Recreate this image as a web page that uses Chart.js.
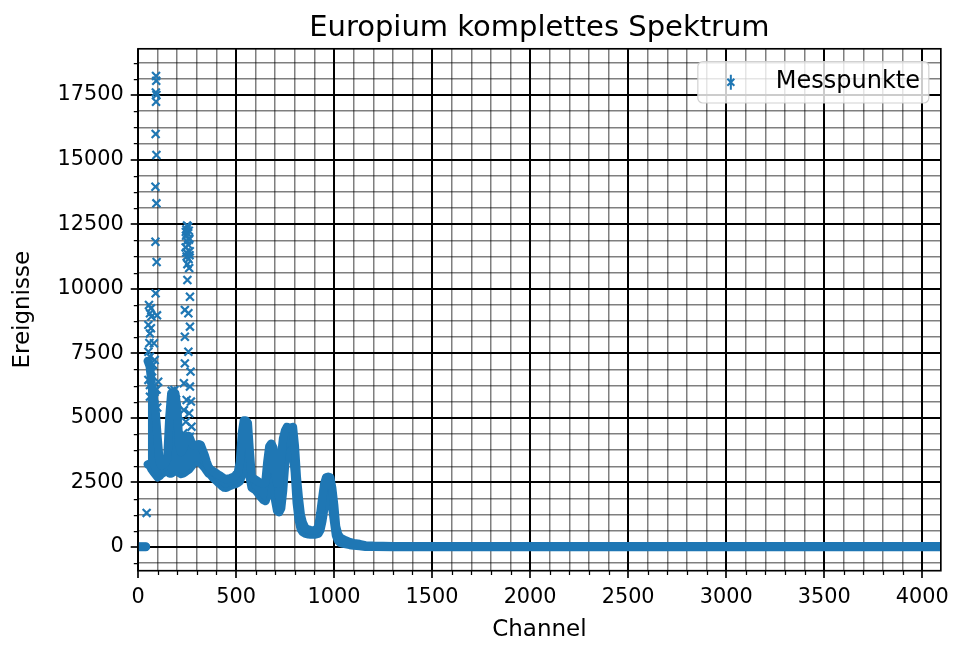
<!DOCTYPE html>
<html>
<head>
<meta charset="utf-8">
<script src="https://cdn.jsdelivr.net/npm/chart.js@4.4.1/dist/chart.umd.min.js"></script>
<style>
  html, body { margin: 0; padding: 0; background: #fff; }
</style>
</head>
<body>
<canvas id="spektrum" width="956" height="646"></canvas>
<script>
// dense part of the spectrum: channel with upper and lower edge of the point cloud
const bandChannels = [0, 10, 20, 30, 40, 44, 50, 60, 70, 80, 90, 100, 110, 120, 130, 140, 150, 160, 170, 180, 190, 200,
  210, 220, 230, 240, 250, 260, 270, 280, 290, 300, 310, 320, 330, 340, 350, 360, 370, 380, 390, 400,
  410, 420, 430, 440, 450, 460, 470, 480, 490, 500, 510, 520, 530, 540, 550, 560, 570, 580, 590, 600,
  610, 620, 630, 640, 650, 660, 670, 680, 690, 700, 710, 720, 730, 740, 750, 760, 770, 780, 790, 800,
  810, 820, 830, 840, 850, 860, 870, 880, 890, 900, 910, 920, 930, 940, 950, 960, 970, 980, 990, 1000,
  1010, 1020, 1030, 1040, 1060, 1080, 1100, 1130, 1160, 1200, 1300, 1500, 2000, 2500, 3000, 3500, 4095];
const bandUpper = [15, 15, 15, 15, 15, null, 7200, 7000, 6300, 5800, 5200, 4200, 3300, 3150, 3200, 3250, 3450, 5000, 5950, 6000, 5950, 5400,
  3950, 3680, 3800, 4100, 4300, 4300, 4100, 3950, 3920, 3950, 3980, 3950, 3750, 3550, 3300, 3100, 3000, 2950, 2900, 2850,
  2800, 2760, 2700, 2650, 2630, 2640, 2660, 2690, 2720, 2800, 2900, 3300, 4400, 4900, 4900, 4800, 3700, 2700, 2650, 2600,
  2550, 2500, 2480, 2450, 2500, 3300, 3900, 4000, 3850, 2900, 2450, 2450, 3500, 4200, 4500, 4650, 4600, 4600, 4650, 3900,
  2700, 1900, 1250, 950, 780, 700, 670, 650, 640, 650, 680, 800, 1300, 1900, 2450, 2700, 2720, 2700, 2300, 1650,
  800, 500, 380, 320, 250, 190, 150, 115, 60, 45, 30, 30, 30, 30, 30, 30, 30];
const bandLower = [0, 0, 0, 0, 0, null, 3200, 3150, 3000, 2900, 2800, 2700, 2750, 2830, 2880, 2940, 3000, 2850, 2850, 2900, 2950, 2950,
  2870, 2830, 2850, 2900, 2950, 3000, 3100, 3200, 3300, 3300, 3280, 3250, 3150, 3070, 2950, 2850, 2800, 2700, 2630, 2560,
  2480, 2420, 2350, 2300, 2290, 2330, 2370, 2400, 2420, 2450, 2490, 2550, 2800, 3700, 4200, 3800, 2700, 2300, 2250, 2200,
  2100, 2000, 1900, 1820, 1780, 2000, 2900, 3400, 2800, 1800, 1400, 1350, 1500, 2200, 3200, 3800, 3900, 3900, 3700, 2900,
  1700, 1050, 700, 580, 530, 510, 490, 480, 480, 480, 500, 520, 650, 1000, 1500, 2050, 2250, 2150, 1600, 1000,
  450, 250, 170, 140, 110, 80, 60, 40, 12, 8, 0, 0, 0, 0, 0, 0, 0];

// single points standing out of the cloud (low channels and the peaks near 95 and 255)
const singleChannels = [44, 92, 93, 91, 94, 92, 90, 94, 89, 94, 89, 95, 90, 97,
  56, 66, 61, 68, 53, 66, 61, 53, 61, 77, 85, 81, 53, 61, 77, 88, 103, 61, 77, 85, 72, 98, 58, 95,
  250, 256, 247, 259, 253, 245, 262, 249, 256, 243, 264, 248, 258, 252, 261, 246, 260, 244, 263,
  252, 265, 239, 257, 265, 239, 257, 239, 268, 234, 265, 248, 270, 234, 261, 244, 273, 231, 265, 248, 273,
  172, 186, 178, 194, 181, 168, 198];
const singleCounts = [1320, 18235, 18050, 17600, 17500, 17240, 15990, 15176, 13950, 13306, 11820, 11034, 9820, 8970,
  9370, 9240, 9050, 8920, 8600, 8470, 8270, 7560, 7370, 7050, 7240, 7890, 6470, 6270, 6140, 6080, 6400, 5820, 5560, 5760, 6800, 5400, 7900, 6100,
  12450, 12400, 12300, 12250, 12150, 12050, 11950, 11850, 11700, 11600, 11450, 11250, 11150, 10950, 10800, 11400, 11900, 12200, 11300,
  10340, 9690, 9180, 9050, 8530, 8140, 7560, 7110, 6790, 6340, 6210, 5690, 5630, 5300, 5180, 4850, 4660, 4400, 4270, 3880, 3630,
  6050, 6080, 5900, 5700, 5800, 5500, 5300];

const xMajorTicks = [0, 500, 1000, 1500, 2000, 2500, 3000, 3500, 4000];
const yMajorTicks = [0, 2500, 5000, 7500, 10000, 12500, 15000, 17500];

const C0 = '#1f77b4';
const FONT = 'DejaVu Sans';

const toPoints = (xs, ys) => xs.map((x, i) => ({ x: x, y: ys[i] }));

// minor ticks: 5 per major step on x, 4 per major step on y (like matplotlib)
function xTickList() {
  const out = [];
  for (let v = 0; v <= 4000; v += 100) out.push({ value: v });
  return out;
}
function yTickList() {
  const out = [];
  for (let k = -1; k <= 30; k++) out.push({ value: k * 625 });
  return out;
}

const decor = {
  id: 'decor',
  afterDraw(chart) {
    const { ctx, chartArea: a, scales: { x, y } } = chart;
    ctx.save();

    // minor tick marks
    ctx.strokeStyle = '#000';
    ctx.lineWidth = 1.25;
    ctx.beginPath();
    x.ticks.forEach(t => {
      if (!xMajorTicks.includes(t.value)) {
        const px = Math.round(x.getPixelForValue(t.value)) + 0.5;
        ctx.moveTo(px, a.bottom);
        ctx.lineTo(px, a.bottom + 4.2);
      }
    });
    y.ticks.forEach(t => {
      if (!yMajorTicks.includes(t.value)) {
        const py = Math.round(y.getPixelForValue(t.value)) + 0.5;
        ctx.moveTo(a.left, py);
        ctx.lineTo(a.left - 4.2, py);
      }
    });
    ctx.stroke();

    // frame
    ctx.lineWidth = 1.67;
    ctx.strokeRect(a.left, a.top, a.right - a.left, a.bottom - a.top);

    // title
    ctx.fillStyle = '#000';
    ctx.font = '29px "' + FONT + '"';
    ctx.textAlign = 'center';
    ctx.textBaseline = 'alphabetic';
    ctx.fillText('Europium komplettes Spektrum', (a.left + a.right) / 2, a.top - 12.5);

    // legend box
    const bx = a.right - 243, by = a.top + 12.7, bw = 231, bh = 41.5, r = 5;
    ctx.beginPath();
    ctx.moveTo(bx + r, by);
    ctx.arcTo(bx + bw, by, bx + bw, by + bh, r);
    ctx.arcTo(bx + bw, by + bh, bx, by + bh, r);
    ctx.arcTo(bx, by + bh, bx, by, r);
    ctx.arcTo(bx, by, bx + bw, by, r);
    ctx.closePath();
    ctx.fillStyle = 'rgba(255,255,255,0.8)';
    ctx.fill();
    ctx.strokeStyle = 'rgba(204,204,204,0.9)';
    ctx.lineWidth = 1.2;
    ctx.stroke();

    // legend handle: error bar with x marker
    const hx = bx + 33, hy = by + bh / 2;
    ctx.strokeStyle = C0;
    ctx.lineWidth = 2;
    ctx.beginPath();
    ctx.moveTo(hx, hy - 7.5);
    ctx.lineTo(hx, hy + 7.5);
    ctx.moveTo(hx - 3.5, hy - 3.5);
    ctx.lineTo(hx + 3.5, hy + 3.5);
    ctx.moveTo(hx + 3.5, hy - 3.5);
    ctx.lineTo(hx - 3.5, hy + 3.5);
    ctx.stroke();

    ctx.fillStyle = '#000';
    ctx.font = '24px "' + FONT + '"';
    ctx.textAlign = 'left';
    ctx.textBaseline = 'middle';
    ctx.fillText('Messpunkte', bx + 78, hy);

    ctx.restore();
  }
};

const bandStyle = {
  type: 'line',
  borderColor: C0,
  backgroundColor: C0,
  borderWidth: 8.5,
  borderJoinStyle: 'round',
  borderCapStyle: 'round',
  pointRadius: 0,
  spanGaps: false,
  tension: 0,
  clip: 0
};

new Chart(document.getElementById('spektrum'), {
  type: 'scatter',
  data: {
    datasets: [
      Object.assign({ label: 'Messpunkte', data: toPoints(bandChannels, bandUpper), fill: '+1' }, bandStyle),
      Object.assign({ label: 'Messpunkte (unten)', data: toPoints(bandChannels, bandLower), fill: false }, bandStyle),
      {
        label: 'Messpunkte (einzeln)',
        data: toPoints(singleChannels, singleCounts),
        showLine: false,
        pointStyle: 'crossRot',
        pointRadius: 5.6,
        borderColor: C0,
        backgroundColor: C0,
        borderWidth: 2.2,
        clip: 0
      }
    ]
  },
  options: {
    responsive: false,
    animation: false,
    devicePixelRatio: 1,
    events: [],
    layout: { padding: { left: 0, right: 14, top: 48.8, bottom: 0 } },
    plugins: {
      legend: { display: false },
      title: { display: false },
      tooltip: { enabled: false }
    },
    scales: {
      x: {
        type: 'linear',
        min: 0,
        max: 4095,
        afterBuildTicks: s => { s.ticks = xTickList(); },
        afterFit: s => { s.height = 75.3; },
        border: { display: false },
        grid: {
          color: c => (c.tick && xMajorTicks.includes(c.tick.value)) ? '#000' : 'rgba(0,0,0,0.5)',
          lineWidth: c => (c.tick && xMajorTicks.includes(c.tick.value)) ? 2 : 1.5,
          tickLength: 7.3,
          tickColor: c => (c.tick && xMajorTicks.includes(c.tick.value)) ? '#000' : 'rgba(0,0,0,0)',
          tickWidth: 1.67
        },
        ticks: {
          autoSkip: false,
          maxRotation: 0,
          padding: 7,
          color: '#000',
          font: { family: FONT, size: 20.8 },
          callback: v => xMajorTicks.includes(v) ? String(v) : ''
        },
        title: {
          display: true,
          text: 'Channel',
          color: '#000',
          font: { family: FONT, size: 23 },
          padding: { top: 0, bottom: 2.2 }
        }
      },
      y: {
        type: 'linear',
        min: -918,
        max: 19290,
        afterBuildTicks: s => { s.ticks = yTickList(); },
        afterFit: s => { s.width = 138; },
        border: { display: false },
        grid: {
          color: c => (c.tick && yMajorTicks.includes(c.tick.value)) ? '#000' : 'rgba(0,0,0,0.5)',
          lineWidth: c => (c.tick && yMajorTicks.includes(c.tick.value)) ? 2 : 1.5,
          tickLength: 7.3,
          tickColor: c => (c.tick && yMajorTicks.includes(c.tick.value)) ? '#000' : 'rgba(0,0,0,0)',
          tickWidth: 1.67
        },
        ticks: {
          autoSkip: false,
          padding: 7,
          color: '#000',
          font: { family: FONT, size: 20.8 },
          callback: v => yMajorTicks.includes(v) ? String(v) : ''
        },
        title: {
          display: true,
          text: 'Ereignisse',
          color: '#000',
          font: { family: FONT, size: 23 },
          padding: { top: 9.5, bottom: 0 }
        }
      }
    }
  },
  plugins: [decor]
});
</script>
</body>
</html>
